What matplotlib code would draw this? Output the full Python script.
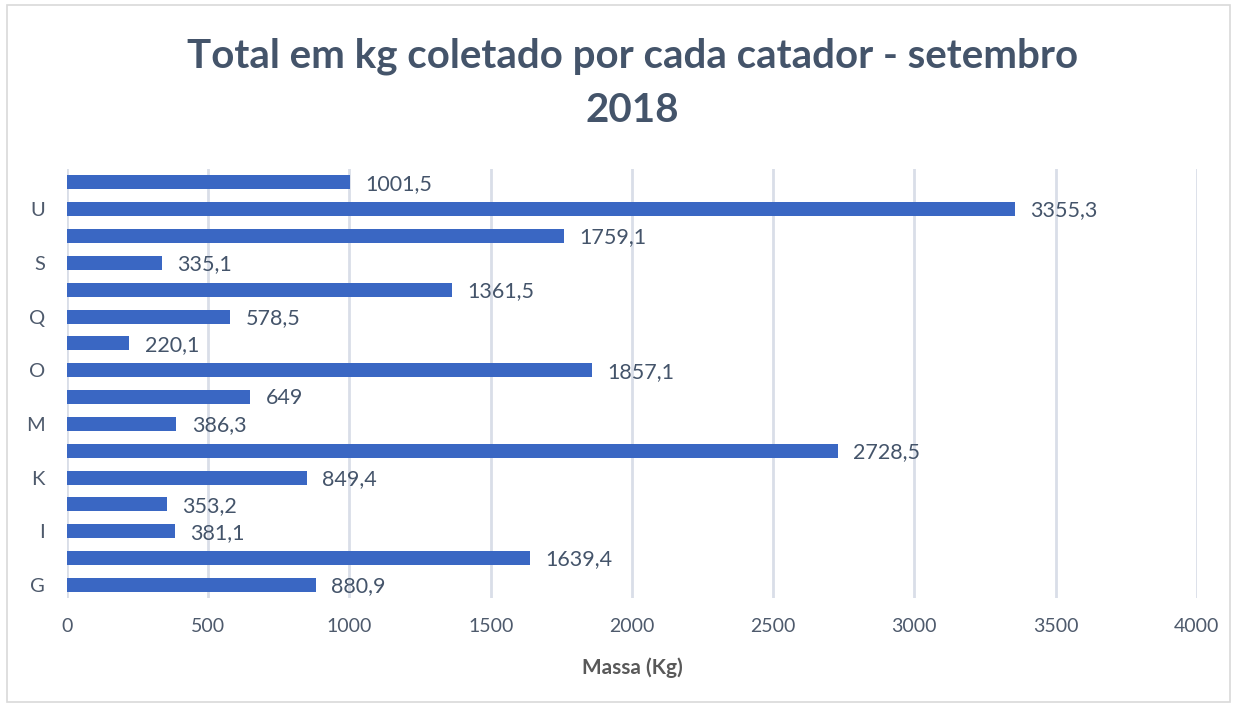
import matplotlib.pyplot as plt
from matplotlib.patches import Rectangle

# data (bottom to top)
catadores = ["G", "H", "I", "J", "K", "L", "M", "N", "O", "P", "Q", "R", "S", "T", "U", "V"]
massa = [880.9, 1639.4, 381.1, 353.2, 849.4, 2728.5, 386.3, 649, 1857.1, 220.1,
         578.5, 1361.5, 335.1, 1759.1, 3355.3, 1001.5]
x_ticks = [0, 500, 1000, 1500, 2000, 2500, 3000, 3500, 4000]

plt.rcParams['font.family'] = ['Lato', 'DejaVu Sans']

fig = plt.figure(figsize=(12.35, 7.04), dpi=100)
ax = fig.add_axes([0.0543, 0.150, 0.9147, 0.610])

pos = list(range(len(catadores)))
ax.barh(pos, massa, height=0.52, color='#3A67C3', zorder=3)

for y, v in zip(pos, massa):
    txt = ("%.1f" % v).replace('.', ',') if v % 1 else "%d" % v
    ax.text(v + 55, y - 0.05, txt, va='center', ha='left', fontsize=15.5, color='#44546A')

ax.set_xlim(0, 4000)
ax.set_ylim(-0.5, len(catadores) - 0.5)
ax.set_xticks(x_ticks)
ax.set_xticklabels([str(t) for t in x_ticks], fontsize=14, color='#4E5A6C')
ax.set_yticks(pos)
ax.set_yticklabels([c if i % 2 == 0 else "" for i, c in enumerate(catadores)],
                   fontsize=14.5, color='#4E5A6C')
ax.tick_params(length=0)
ax.tick_params(axis='x', pad=14)
ax.tick_params(axis='y', pad=16)
ax.grid(axis='x', color='#D9DEE8', linewidth=2, zorder=0)
for s in ax.spines.values():
    s.set_visible(False)

ax.set_xlabel('Massa (Kg)', fontsize=15, fontweight='bold', color='#595959', labelpad=16)

fig.text(0.512, 0.882, 'Total em kg coletado por cada catador - setembro\n2018',
         ha='center', va='center', fontsize=29, fontweight='bold', color='#44546A',
         linespacing=1.55)

fig.patches.append(Rectangle((0.006, 0.003), 0.99, 0.99, transform=fig.transFigure,
                             fill=False, edgecolor='#D9D9D9', linewidth=1.2))

plt.savefig("out.png")
